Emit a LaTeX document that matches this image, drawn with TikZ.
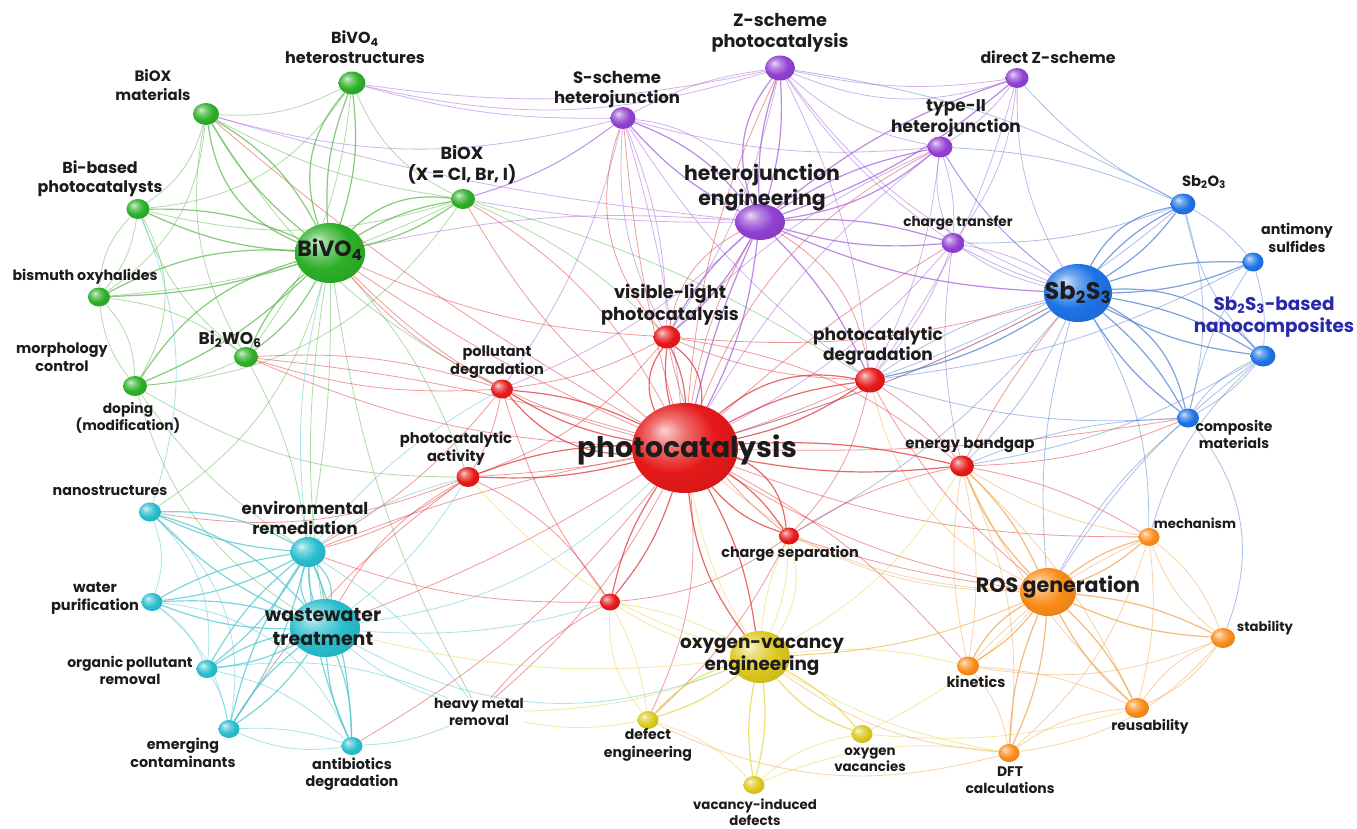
\documentclass[tikz,border=0pt]{standalone}
\usepackage{fontspec}
\setmainfont{Poppins}
\usetikzlibrary{shapes.geometric,backgrounds}
\definecolor{txt}{RGB}{28,28,28}
\definecolor{cG}{RGB}{45,175,40}
\definecolor{cP}{RGB}{145,65,210}
\definecolor{cB}{RGB}{30,115,230}
\definecolor{cR}{RGB}{230,25,25}
\definecolor{cC}{RGB}{40,190,205}
\definecolor{cY}{RGB}{220,200,30}
\definecolor{cO}{RGB}{250,140,25}
\definecolor{eG}{RGB}{95,185,80}
\definecolor{eP}{RGB}{165,100,220}
\definecolor{eB}{RGB}{80,130,210}
\definecolor{eR}{RGB}{225,55,55}
\definecolor{eC}{RGB}{80,200,210}
\definecolor{eY}{RGB}{232,214,70}
\definecolor{eO}{RGB}{242,165,80}
\definecolor{nblue}{RGB}{40,40,170}
\colorlet{ballcol}{red}
\pgfdeclareradialshading[ballcol]{myball}{\pgfpoint{-10bp}{10bp}}{%
  color(0bp)=(ballcol!20!white); color(8bp)=(ballcol!60!white);
  color(20bp)=(ballcol); color(38bp)=(ballcol!88!black); color(55bp)=(ballcol!68!black)}
\newcommand\fz[1]{\fontsize{#1}{\fpeval{1.22*#1}}\selectfont\bfseries}
\newcommand\myedges[2]{\foreach \a/\b/\c in {#2}{\draw[#1] (\a) to[bend left=\c] (\b);}}
\tikzset{
  bl/.style={ellipse, inner sep=0pt, /utils/exec={\colorlet{ballcol}{#1}}, shading=myball},
  bs/.style 2 args={minimum width=#1, minimum height=#2},
  lab/.style={text=txt, align=center, inner sep=0pt, font=\fz{14.2}},
  ethin/.style={line width=0.8pt, opacity=0.5},
  ehub/.style={line width=1.2pt, opacity=0.75},
}
\begin{document}
\begin{tikzpicture}[x=1pt,y=-1pt]
\useasboundingbox (0,0) rectangle (1357,828);
% ---------- balls ----------
% green
\node[bl=cG, bs={70}{60}] (bivo) at (330,253) {};
\node[bl=cG, bs={27}{23}] (bivoh) at (352,83) {};
\node[bl=cG, bs={26}{22}] (biox) at (206,114) {};
\node[bl=cG, bs={23}{20}] (bibased) at (138,209) {};
\node[bl=cG, bs={22}{19}] (bismuth) at (99,297) {};
\node[bl=cG, bs={24}{20}] (bi2wo6) at (246,357) {};
\node[bl=cG, bs={24}{20}] (doping) at (135,386) {};
\node[bl=cG, bs={24}{20}] (bioxcl) at (463,199) {};
% purple
\node[bl=cP, bs={30}{25}] (zs) at (780,68) {};
\node[bl=cP, bs={25}{22}] (ss) at (623,118) {};
\node[bl=cP, bs={23}{20}] (dz) at (1017,78) {};
\node[bl=cP, bs={25}{21}] (t2) at (940,147) {};
\node[bl=cP, bs={50}{36}] (hje) at (760,222) {};
\node[bl=cP, bs={23}{20}] (ct) at (953,243) {};
% blue
\node[bl=cB, bs={68}{58}] (sb) at (1078,293) {};
\node[bl=cB, bs={25}{21}] (sbo) at (1183,204) {};
\node[bl=cB, bs={21}{19}] (ams) at (1253,262) {};
\node[bl=cB, bs={25}{21}] (nano) at (1263,356) {};
\node[bl=cB, bs={22}{19}] (comp) at (1188,418) {};
% red
\node[bl=cR, bs={106}{90}] (pc) at (685,448) {};
\node[bl=cR, bs={27}{23}] (vl) at (667,337) {};
\node[bl=cR, bs={30}{25}] (pd) at (870,380) {};
\node[bl=cR, bs={22}{19}] (pold) at (502,389) {};
\node[bl=cR, bs={23}{20}] (pa) at (468,477) {};
\node[bl=cR, bs={24}{21}] (eb) at (962,466) {};
\node[bl=cR, bs={20}{17}] (cs) at (789,536) {};
\node[bl=cR, bs={20}{17}] (r0) at (610,602) {};
% cyan
\node[bl=cC, bs={35}{30}] (er) at (308,552) {};
\node[bl=cC, bs={70}{58}] (ww) at (325,628) {};
\node[bl=cC, bs={22}{19}] (ns) at (150,512) {};
\node[bl=cC, bs={21}{18}] (wp) at (152,602) {};
\node[bl=cC, bs={21}{18}] (opr) at (207,669) {};
\node[bl=cC, bs={21}{18}] (ec) at (229,729) {};
\node[bl=cC, bs={21}{18}] (ad) at (352,746) {};
% yellow
\node[bl=cY, bs={60}{52}] (ov) at (760,657) {};
\node[bl=cY, bs={21}{18}] (de) at (648,720) {};
\node[bl=cY, bs={21}{18}] (ovac) at (862,734) {};
\node[bl=cY, bs={21}{18}] (vid) at (754,785) {};
% orange
\node[bl=cO, bs={56}{48}] (ros) at (1048,592) {};
\node[bl=cO, bs={21}{18}] (mech) at (1149,537) {};
\node[bl=cO, bs={24}{20}] (stab) at (1223,638) {};
\node[bl=cO, bs={22}{19}] (kin) at (968,666) {};
\node[bl=cO, bs={24}{20}] (reus) at (1137,708) {};
\node[bl=cO, bs={21}{18}] (dft) at (1009,753) {};
% ---------- labels ----------
\node[lab, font=\fz{22}] (lbivo) at (330,250) {BiVO\textsubscript{4}};
\node[lab, font=\fz{16}] (lbivoh) at (355,47) {BiVO\textsubscript{4}\\heterostructures};
\node[lab, font=\fz{15}] (lbiox) at (153,85) {BiOX\\materials};
\node[lab, font=\fz{15.9}] (lbibased) at (100,179) {Bi-based\\photocatalysts};
\node[lab] (lbismuth) at (85,277) {bismuth oxyhalides};
\node[lab, font=\fz{17}] (lbi2wo6) at (230,339) {Bi\textsubscript{2}WO\textsubscript{6}};
\node[lab, font=\fz{14.4}] (lmorph) at (62,357) {morphology\\control};
\node[lab, font=\fz{13.8}] (ldoping) at (128,418) {doping\\(modification)};
\node[lab, font=\fz{17.5}] (lbioxcl) at (462,165) {BiOX\\(X = Cl, Br, I)};
\node[lab, font=\fz{17.7}] (lzs) at (780,33) {Z-scheme\\photocatalysis};
\node[lab, font=\fz{16.5}] (lss) at (617,90) {S-scheme\\heterojunction};
\node[lab, font=\fz{15.8}] (ldz) at (1048,57) {direct Z-scheme};
\node[lab, font=\fz{17}] (lt2) at (956,118) {type-II\\heterojunction};
\node[lab, font=\fz{20.4}] (lhje) at (762,188) {heterojunction\\engineering};
\node[lab, font=\fz{13.6}] (lct) at (958,223) {charge transfer};
\node[lab, font=\fz{24}] (lsb) at (1078,293) {Sb\textsubscript{2}S\textsubscript{3}};
\node[lab, font=\fz{14.8}] (lsbo) at (1204,182) {Sb\textsubscript{2}O\textsubscript{3}};
\node[lab] (lams) at (1297,238) {antimony\\sulfides};
\node[lab, font=\fz{18.4}, text=nblue] (lnano) at (1274,317) {Sb\textsubscript{2}S\textsubscript{3}-based\\nanocomposites};
\node[lab, font=\fz{14}] (lcomp) at (1234,434) {composite\\materials};
\node[lab, font=\fz{28.4}] (lpc) at (687,450) {photocatalysis};
\node[lab, font=\fz{17.8}] (lvl) at (670,305) {visible-light\\photocatalysis};
\node[lab, font=\fz{17}] (lpd) at (878,346) {photocatalytic\\degradation};
\node[lab, font=\fz{14.5}] (lpold) at (497,362) {pollutant\\degradation};
\node[lab, font=\fz{14.7}] (lpa) at (456,449) {photocatalytic\\activity};
\node[lab, font=\fz{15}] (leb) at (970,445) {energy bandgap};
\node[lab, font=\fz{14.4}] (lcs) at (790,554) {charge separation};
\node[lab, font=\fz{16.5}] (ler) at (305,518) {environmental\\remediation};
\node[lab, font=\fz{19}] (lww) at (323,627) {wastewater\\treatment};
\node[lab, font=\fz{14.3}] (lns) at (110,491) {nanostructures};
\node[lab, font=\fz{14.6}] (lwp) at (95,598) {water\\purification};
\node[lab, font=\fz{14}] (lopr) at (130,670) {organic pollutant\\removal};
\node[lab, font=\fz{14.3}] (lec) at (183,753) {emerging\\contaminants};
\node[lab, font=\fz{14.4}] (lad) at (352,774) {antibiotics\\degradation};
\node[lab, font=\fz{13.8}] (hm) at (479,712) {heavy metal\\removal};
\node[lab, font=\fz{18.4}] (lov) at (762,657) {oxygen-vacancy\\engineering};
\node[lab, font=\fz{14.1}] (lde) at (648,745) {defect\\engineering};
\node[lab, font=\fz{13.4}] (lovac) at (870,760) {oxygen\\vacancies};
\node[lab, font=\fz{13.3}] (lvid) at (755,812) {vacancy-induced\\defects};
\node[lab, font=\fz{20.6}] (lros) at (1058,587) {ROS generation};
\node[lab, font=\fz{13.2}] (lmech) at (1195,523) {mechanism};
\node[lab, font=\fz{13.2}] (lstab) at (1265,628) {stability};
\node[lab, font=\fz{14.5}] (lkin) at (976,682) {kinetics};
\node[lab, font=\fz{13.9}] (lreus) at (1150,727) {reusability};
\node[lab, font=\fz{13.9}] (ldft) at (1010,780) {DFT\\calculations};
% ---------- edges ----------
\begin{scope}[on background layer]
\fill[white] (0,0) rectangle (1357,828);
% cross / faint edges
\myedges{eG, ethin}{biox/bivoh/-15, biox/bibased/20, biox/bismuth/25, biox/bioxcl/-10, biox/bi2wo6/-20, bivoh/bioxcl/-20, bivoh/bibased/25, bivoh/bi2wo6/15, bibased/bismuth/15, bibased/doping/30, bibased/bi2wo6/-15, bibased/bioxcl/-15, bibased/bismuth/-20, bismuth/doping/-15, bismuth/doping/20, bismuth/bi2wo6/15, bismuth/bioxcl/-10, bi2wo6/doping/10, bi2wo6/er/10, doping/pa/-15, doping/er/-10, doping/ww/-20, doping/bioxcl/-25, bivo/er/5, bivo/ww/-8, bivo/ns/20, bivo/pa/10, bioxcl/vl/10, bioxcl/pd/8, bivo/hm/-10, biox/pold/-15}
\myedges{eP, ethin}{bivoh/ss/-8, bivoh/zs/-10, bioxcl/hje/-5, bioxcl/ss/-10, zs/ss/-10, zs/dz/-10, zs/t2/-15, zs/ct/-10, zs/sb/-15, zs/vl/10, zs/pd/10, zs/bivoh/15, ss/vl/10, ss/vl/-15, ss/pc/5, ss/t2/-10, ss/biox/15, ss/pd/-10, ss/bioxcl/10, ss/pold/10, ss/hje/30, dz/t2/10, dz/sb/-15, dz/ct/15, dz/pd/10, dz/zs/20, t2/ct/10, t2/ct/-15, t2/sb/-10, t2/pd/10, t2/vl/-10, t2/pc/-10, ct/sb/10, ct/sb/-10, ct/pd/10, ct/pc/10, ct/eb/-10, hje/pold/10, hje/biox/5, hje/bivo/-8}
\myedges{eB, ethin}{sbo/ams/10, sbo/nano/-15, sbo/comp/15, sbo/zs/-10, sbo/pd/10, sbo/ct/10, dz/sbo/-10, t2/sbo/10, ams/nano/10, ams/comp/-10, ams/pd/10, nano/comp/10, nano/comp/-15, nano/mech/-15, nano/ros/-10, nano/eb/10, comp/eb/-10, comp/ros/-10, comp/pd/10, comp/stab/30, sb/pd/-10, sb/pc/5, sb/eb/10, sb/ros/-10, sb/cs/10, sb/t2/10, sb/mech/15, sb/ct/5}
\myedges{eR, ethin}{pc/er/-5, pc/ww/5, pc/ros/-10, pc/bivo/5, pc/bioxcl/10, pc/hje/10, pc/ss/5, pc/sb/-5, pc/ct/5, pc/de/15, pc/comp/-5, pc/mech/-10, pc/bi2wo6/-5, pc/ad/10, pc/hm/10, pc/biox/5, pc/t2/20, pc/zs/10, pc/kin/10, vl/pold/10, vl/pd/-10, vl/pa/15, vl/cs/-20, vl/hje/25, vl/ss/30, vl/eb/15, vl/sb/-10, pd/eb/10, pd/cs/15, pd/ros/-10, pd/hje/-25, pd/pa/10, pold/pa/10, pold/r0/-10, pold/bi2wo6/-10, pold/er/10, pa/er/10, pa/ww/-15, pa/r0/15, pa/ns/15, pa/ec/-10, eb/cs/-10, eb/mech/10, eb/sb/5, eb/comp/-10, cs/ros/-5, cs/de/10, cs/r0/15, r0/er/10, r0/hm/-10, bivo/pold/-10, bivo/pc/-15, bi2wo6/pold/-10, bi2wo6/pc/-10, bioxcl/pc/15, bivo/vl/-10}
\myedges{eC, ethin}{er/pa/10, er/pold/10, er/bivo/10, er/hm/10, ww/ov/-25, ww/pa/-10, ww/pc/-18, ww/r0/-10, ns/wp/20, ns/opr/25, ns/bibased/-20, ns/ec/30, wp/opr/15, wp/ec/20, wp/ad/30, opr/ec/10, opr/ad/15, opr/hm/15, ec/ad/10, ec/ad/-15, ad/hm/-10, ww/hm/-10}
\myedges{eY, ethin}{ov/cs/10, ov/cs/-10, ov/r0/10, ov/pc/10, ov/ros/-10, ov/eb/-15, ov/pa/15, ov/kin/10, ov/ww/10, ov/hm/10, ov/dft/-10, de/vid/15, vid/ovac/15, de/r0/20, ovac/ros/-10, de/hm/10, ovac/reus/-10, vid/dft/15, cs/ov/25, r0/ov/10, r0/de/10}
\myedges{eO, ethin}{ros/cs/10, ros/pd/25, ros/ov/10, ros/pc/20, mech/stab/15, mech/stab/-15, mech/reus/10, mech/kin/-10, mech/eb/10, mech/dft/15, stab/reus/15, stab/reus/-15, stab/dft/20, stab/kin/15, kin/dft/15, kin/eb/10, kin/reus/10, dft/reus/15, dft/ov/15, dft/de/20, reus/eb/10, eb/kin/10, eb/reus/10, eb/dft/15}
% hub edges
\myedges{eG, ehub}{bivo/bivoh/12, bivo/bivoh/-12, bivo/bivoh/30, bivo/biox/10, bivo/biox/-15, bivo/biox/30, bivo/bibased/10, bivo/bibased/-12, bivo/bismuth/8, bivo/bismuth/-15, bivo/bi2wo6/12, bivo/bi2wo6/-12, bivo/doping/10, bivo/doping/-20, bivo/bioxcl/10, bivo/bioxcl/-10, bivo/bioxcl/25}
\myedges{eP, ehub}{hje/zs/10, hje/zs/-10, hje/zs/30, hje/ss/10, hje/ss/-15, hje/t2/10, hje/t2/-15, hje/dz/10, hje/dz/-10, hje/ct/10, hje/ct/-10, hje/vl/10, hje/vl/-10, hje/pc/10, hje/pc/-5, hje/pd/10, hje/sb/-10}
\myedges{eB, ehub}{sb/sbo/10, sb/sbo/-10, sb/sbo/25, sb/ams/10, sb/ams/-10, sb/nano/10, sb/nano/-10, sb/nano/25, sb/comp/10, sb/comp/-10, sb/comp/25, sb/pd/10}
\myedges{eR, ehub}{pc/vl/10, pc/vl/-10, pc/vl/30, pc/vl/-30, pc/pd/10, pc/pd/-10, pc/pd/25, pc/pold/10, pc/pold/-10, pc/pold/25, pc/pa/8, pc/pa/-10, pc/eb/8, pc/eb/-8, pc/cs/10, pc/cs/-15, pc/cs/30, pc/r0/10, pc/r0/-10, pc/ov/10, pc/ov/-15}
\myedges{eC, ehub}{er/ww/10, er/ww/-10, er/ww/25, er/ww/-25, er/ns/10, er/ns/-15, er/wp/10, er/wp/-10, er/opr/10, er/opr/-10, er/ec/10, er/ec/-10, er/ad/10, er/ad/-10, ww/ns/10, ww/ns/-15, ww/wp/10, ww/wp/-10, ww/opr/10, ww/opr/-10, ww/ec/10, ww/ec/-10, ww/ad/10, ww/ad/-10}
\myedges{eY, ehub}{ov/de/10, ov/de/-15, ov/ovac/10, ov/ovac/-15, ov/vid/10, ov/vid/-10}
\myedges{eO, ehub}{ros/mech/10, ros/mech/-10, ros/stab/10, ros/stab/-10, ros/kin/10, ros/kin/-15, ros/reus/10, ros/reus/-10, ros/dft/10, ros/dft/-10, ros/eb/10, ros/eb/-10}
\end{scope}
\end{tikzpicture}
\end{document}
